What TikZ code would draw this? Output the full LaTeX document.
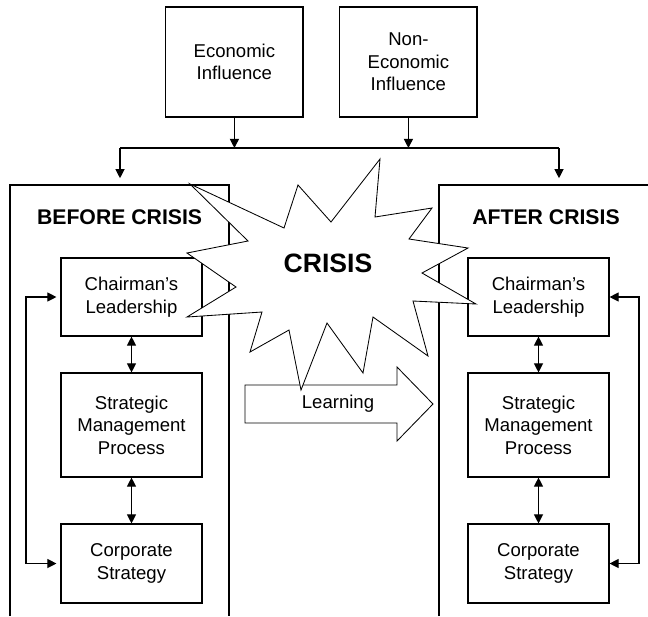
\documentclass[tikz,border=0pt]{standalone}
\usepackage{fontspec}
\setmainfont{Liberation Sans}
\usetikzlibrary{arrows.meta,positioning}
\newcommand{\boxfont}{\fontsize{13.2}{16}\selectfont}
\newcommand{\phasefont}{\fontsize{15.1}{18}\selectfont\bfseries}
\tikzset{
  inflbox/.style={draw, line width=0.8pt, align=center, font=\boxfont,
                  minimum width=3.43cm, minimum height=2.75cm, inner sep=2pt},
  stagebox/.style={draw, line width=0.8pt, align=center, font=\boxfont,
                   minimum width=3.525cm, inner sep=2pt},
  phase/.style={font=\phasefont},
  burst/.style={draw, line width=0.6pt, fill=white, line join=miter},
}

\begin{document}
\begin{tikzpicture}[>={Triangle[length=6.5pt,width=6.5pt]}, line width=0.8pt]
    \useasboundingbox (0,0) rectangle (16.2,-15.4);
    % influences
    \node[inflbox] (econ)    at (5.86,-1.55)  {Economic\\Influence};
    \node[inflbox] (nonecon) at (10.21,-1.55) {Non-\\Economic\\Influence};
    \coordinate (jl) at (3.0,-3.7);
    \coordinate (jr) at (13.975,-3.7);
    \draw (jl) -- (jr);
    \draw[->] (econ.south) -- (econ.south |- jl);
    \draw[->] (nonecon.south) -- (nonecon.south |- jl);
    % before / after frames (open at the bottom)
    \draw (0.25,-15.4) -- (0.25,-4.625) -- (5.725,-4.625) -- (5.725,-15.4);
    \draw (10.975,-15.4) -- (10.975,-4.625) -- (16.4,-4.625);
    \coordinate (bTop) at (3.0,-4.625);
    \coordinate (aTop) at (13.975,-4.625);
    \draw[->, shorten >=0.17cm] (jl) -- (bTop);
    \draw[->, shorten >=0.17cm] (jr) -- (aTop);
    \node[phase] (before) at (2.99,-5.425)  {BEFORE CRISIS};
    \node[phase] (after)  at (13.65,-5.425) {AFTER CRISIS};
    % before crisis
    \node[stagebox, minimum height=1.95cm]  (bChair) at (3.2875,-7.425)   {Chairman’s\\Leadership};
    \node[stagebox, minimum height=2.6cm]   (bSmp)   at (3.2875,-10.625)  {Strategic\\Management\\Process};
    \node[stagebox, minimum height=1.975cm] (bCorp)  at (3.2875,-14.0875) {Corporate\\Strategy};
    \draw[<->] (bChair) -- (bSmp);
    \draw[<->] (bSmp) -- (bCorp);
    \draw[<->, shorten <=0.1cm, shorten >=0.1cm] (bChair.west) -| (0.65,-10.6) |- (bCorp.west);
    % after crisis
    \node[stagebox, minimum height=1.95cm]  (aChair) at (13.4625,-7.425)   {Chairman’s\\Leadership};
    \node[stagebox, minimum height=2.6cm]   (aSmp)   at (13.4625,-10.625)  {Strategic\\Management\\Process};
    \node[stagebox, minimum height=1.975cm] (aCorp)  at (13.4625,-14.0875) {Corporate\\Strategy};
    \draw[<->] (aChair) -- (aSmp);
    \draw[<->] (aSmp) -- (aCorp);
    \draw[<->] (aChair.east) -| (15.975,-10.6) |- (aCorp.east);
    % learning arrow
    \draw[line width=0.6pt] (6.125,-9.625) -- (9.925,-9.625) -- (9.925,-9.175) -- (10.825,-10.1)
        -- (9.925,-11.025) -- (9.925,-10.575) -- (6.125,-10.575) -- cycle;
    \node[font=\boxfont] (learn) at (8.45,-10.1) {Learning};
    % crisis burst
    \draw[burst] (4.75,-4.6) -- (7.1,-5.7) -- (7.45,-4.625) -- (8.275,-5.55) -- (9.5,-3.975)
        -- (9.375,-5.425) -- (10.8,-5.2) -- (10.225,-5.975) -- (11.7,-6.2) -- (10.55,-6.825)
        -- (11.9,-7.6) -- (10.325,-7.525) -- (10.7,-8.9) -- (9.325,-7.925) -- (9.075,-9.325)
        -- (8.175,-8.075) -- (7.525,-9.75) -- (7.225,-8.25) -- (6.25,-8.8) -- (6.55,-7.8)
        -- (4.675,-7.925) -- (5.9,-7.175) -- (4.675,-6.325) -- (6.2,-6.025) -- cycle;
    \node[font=\fontsize{18.9}{22}\selectfont\bfseries] (crisis) at (8.2,-6.575) {CRISIS};
\end{tikzpicture}
\end{document}
